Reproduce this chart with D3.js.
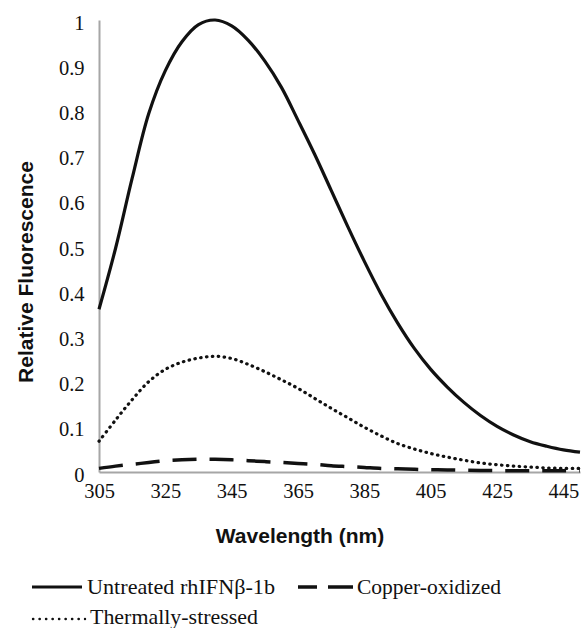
<!DOCTYPE html>
<html>
<head>
<meta charset="utf-8">
<script src="https://cdn.jsdelivr.net/npm/d3@7/dist/d3.min.js"></script>
<style>
  html, body { margin: 0; padding: 0; background: #fff; }
  svg { display: block; }
</style>
</head>
<body>
<svg id="chart" width="587" height="628"></svg>
<script>
const wavelengths = [305,310,315,320,325,330,335,340,345,350,355,360,365,370,375,380,385,390,395,400,405,410,415,420,425,430,435,440,445,450];
const untreated = [0.36,0.495,0.65,0.793,0.888,0.952,0.99,1.0,0.987,0.955,0.909,0.851,0.778,0.703,0.623,0.543,0.466,0.394,0.33,0.274,0.227,0.188,0.154,0.125,0.101,0.082,0.067,0.057,0.049,0.044];
const thermal = [0.068,0.115,0.16,0.2,0.227,0.243,0.252,0.256,0.251,0.238,0.222,0.204,0.185,0.163,0.141,0.12,0.099,0.08,0.063,0.051,0.041,0.033,0.026,0.02,0.016,0.013,0.011,0.009,0.008,0.008];
const copper = [0.008,0.013,0.017,0.021,0.025,0.027,0.028,0.028,0.027,0.025,0.023,0.021,0.019,0.017,0.014,0.012,0.01,0.008,0.007,0.006,0.005,0.0045,0.004,0.0035,0.003,0.003,0.003,0.003,0.003,0.003];
const xTicks = [305,325,345,365,385,405,425,445];
const yTicks = [0,0.1,0.2,0.3,0.4,0.5,0.6,0.7,0.8,0.9,1];
const seriesNames = ["Untreated rhIFNβ-1b","Copper-oxidized","Thermally-stressed"];
const xTitle = "Wavelength (nm)";
const yTitle = "Relative Fluorescence";

const svg = d3.select("#chart");
const x = d3.scaleLinear().domain([305, 450]).range([99, 580]);
const y = d3.scaleLinear().domain([0, 1]).range([472, 20]);

const serif = "'Liberation Serif', 'DejaVu Serif', serif";
const sans = "'Liberation Sans', Arial, sans-serif";
const axisColor = "#a6a6a6";
const textColor = "#111";

// Axes
const yAxis = svg.append("g").attr("transform", "translate(99,0)")
  .call(d3.axisLeft(y).tickValues(yTicks).tickSize(0).tickPadding(14.5)
    .tickFormat(d => (d === 0 ? "0" : d === 1 ? "1" : d3.format(".1f")(d))));
yAxis.select(".domain").attr("stroke", axisColor).attr("stroke-width", 2);
yAxis.selectAll("text").attr("font-family", serif).attr("font-size", 20.5)
  .attr("fill", textColor).attr("dy", "0.44em");

const xAxis = svg.append("g").attr("transform", "translate(0,472)")
  .call(d3.axisBottom(x).tickValues(xTicks).tickSize(0).tickSizeOuter(0).tickPadding(11.5)
    .tickFormat(d3.format("d")));
xAxis.select(".domain").attr("stroke", axisColor).attr("stroke-width", 2);
xAxis.selectAll("text").attr("font-family", serif).attr("font-size", 20.5).attr("fill", textColor);

// Titles
svg.append("text")
  .attr("transform", "translate(33,272) rotate(-90)")
  .attr("text-anchor", "middle")
  .attr("font-family", sans).attr("font-weight", "bold").attr("font-size", 21)
  .attr("fill", "#111").text(yTitle);
svg.append("text")
  .attr("x", 300).attr("y", 543)
  .attr("text-anchor", "middle")
  .attr("font-family", sans).attr("font-weight", "bold").attr("font-size", 21)
  .attr("fill", "#111").text(xTitle);

// Lines
const line = vals => d3.line()
  .x((d, i) => x(wavelengths[i]))
  .y(d => y(d))
  .curve(d3.curveCatmullRom.alpha(0.5))(vals);

svg.append("path").attr("d", line(copper))
  .attr("fill", "none").attr("stroke", "#111").attr("stroke-width", 3.5)
  .attr("stroke-dasharray", "24,13");
svg.append("path").attr("d", line(thermal))
  .attr("fill", "none").attr("stroke", "#111").attr("stroke-width", 3.2)
  .attr("stroke-linecap", "round").attr("stroke-dasharray", "0.5,5.4");
svg.append("path").attr("d", line(untreated))
  .attr("fill", "none").attr("stroke", "#111").attr("stroke-width", 3.2)
  .attr("stroke-linejoin", "round");

// Legend
const lg = svg.append("g");
lg.append("line").attr("x1", 32).attr("x2", 82).attr("y1", 587).attr("y2", 587)
  .attr("stroke", "#111").attr("stroke-width", 3.2);
lg.append("text").attr("x", 87).attr("y", 594)
  .attr("font-family", serif).attr("font-size", 21.5).attr("fill", textColor)
  .attr("textLength", 188).attr("lengthAdjust", "spacingAndGlyphs")
  .text(seriesNames[0]);

lg.append("line").attr("x1", 298).attr("x2", 353).attr("y1", 587).attr("y2", 587)
  .attr("stroke", "#111").attr("stroke-width", 3.5).attr("stroke-dasharray", "19,11,25");
lg.append("text").attr("x", 357).attr("y", 594)
  .attr("font-family", serif).attr("font-size", 21.5).attr("fill", textColor)
  .attr("textLength", 144).attr("lengthAdjust", "spacingAndGlyphs")
  .text(seriesNames[1]);

lg.append("line").attr("x1", 33).attr("x2", 85).attr("y1", 619).attr("y2", 619)
  .attr("stroke", "#111").attr("stroke-width", 2.4)
  .attr("stroke-linecap", "round").attr("stroke-dasharray", "0.3,6.2");
lg.append("text").attr("x", 90).attr("y", 624)
  .attr("font-family", serif).attr("font-size", 21.5).attr("fill", textColor)
  .attr("textLength", 168).attr("lengthAdjust", "spacingAndGlyphs")
  .text(seriesNames[2]);
</script>
</body>
</html>
